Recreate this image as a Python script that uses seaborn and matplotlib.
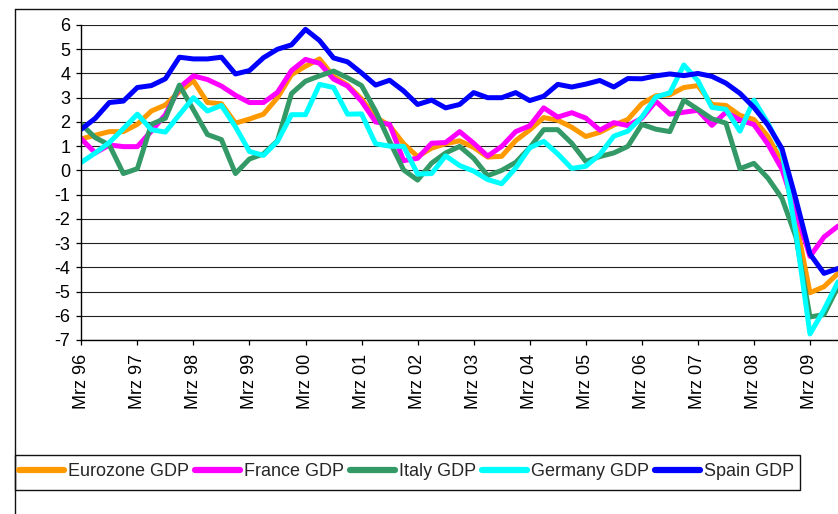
import numpy as np
import pandas as pd
import matplotlib
matplotlib.use("Agg")
import matplotlib.pyplot as plt
from matplotlib.lines import Line2D
from matplotlib.patches import Rectangle
import seaborn as sns

# ---------------- data (quarterly, Mrz 96 .. Sep 09) ----------------
tick_labels = ["Mrz 96", "Mrz 97", "Mrz 98", "Mrz 99", "Mrz 00", "Mrz 01", "Mrz 02",
               "Mrz 03", "Mrz 04", "Mrz 05", "Mrz 06", "Mrz 07", "Mrz 08", "Mrz 09"]

series_names = ["Eurozone GDP", "France GDP", "Italy GDP", "Germany GDP", "Spain GDP"]

eurozone = [1.3, 1.45, 1.6, 1.6, 1.9, 2.45, 2.7, 3.25, 3.7, 2.8, 2.75, 1.95, 2.12, 2.32, 3.0,
            3.95, 4.3, 4.6, 3.88, 3.52, 2.95, 2.2, 1.85, 1.1, 0.57, 0.92, 1.1, 1.22, 0.95, 0.55,
            0.58, 1.23, 1.67, 2.18, 2.07, 1.78, 1.4, 1.57, 1.87, 2.1, 2.75, 3.08, 3.12, 3.42,
            3.5, 2.72, 2.68, 2.27, 2.1, 1.4, 0.35, -2.1, -5.05, -4.8, -4.25]

france = [1.3, 0.72, 1.05, 0.98, 0.98, 1.62, 2.3, 3.42, 3.9, 3.75, 3.48, 3.1, 2.8, 2.8, 3.22,
          4.12, 4.58, 4.42, 3.77, 3.48, 2.85, 2.0, 1.9, 0.4, 0.5, 1.12, 1.15, 1.6, 1.12, 0.59,
          0.99, 1.6, 1.84, 2.58, 2.2, 2.38, 2.16, 1.66, 1.97, 1.85, 2.15, 2.85, 2.32, 2.4,
          2.48, 1.86, 2.4, 2.08, 1.89, 1.08, 0.05, -1.7, -3.55, -2.75, -2.3]

italy = [1.9, 1.35, 1.05, -0.13, 0.07, 1.9, 2.15, 3.52, 2.5, 1.48, 1.27, -0.13, 0.47, 0.68, 1.22,
         3.17, 3.68, 3.9, 4.1, 3.82, 3.5, 2.45, 1.2, 0.02, -0.4, 0.3, 0.72, 0.99, 0.5, -0.22,
         0.0, 0.33, 0.93, 1.68, 1.68, 1.12, 0.37, 0.57, 0.72, 0.99, 1.9, 1.7, 1.6, 2.9,
         2.52, 2.13, 1.95, 0.07, 0.29, -0.32, -1.15, -2.75, -6.05, -5.95, -4.8]

germany = [0.33, 0.72, 1.15, 1.72, 2.32, 1.68, 1.58, 2.3, 3.0, 2.45, 2.68, 1.8, 0.78, 0.62, 1.2,
           2.3, 2.3, 3.55, 3.42, 2.32, 2.33, 1.1, 1.0, 0.99, -0.15, -0.13, 0.6, 0.2, -0.03, -0.38,
           -0.55, 0.1, 0.93, 1.2, 0.68, 0.08, 0.17, 0.65, 1.41, 1.62, 2.2, 3.03, 3.2, 4.35,
           3.7, 2.6, 2.52, 1.62, 2.9, 1.95, 0.8, -2.6, -6.75, -5.75, -4.6]

spain = [1.7, 2.15, 2.8, 2.86, 3.42, 3.5, 3.78, 4.67, 4.6, 4.6, 4.67, 3.98, 4.12, 4.65, 5.0,
         5.18, 5.82, 5.36, 4.64, 4.48, 4.02, 3.52, 3.72, 3.28, 2.72, 2.9, 2.58, 2.72, 3.21, 3.0,
         3.0, 3.21, 2.88, 3.06, 3.55, 3.44, 3.56, 3.71, 3.44, 3.79, 3.78, 3.9, 3.98, 3.91,
         4.0, 3.88, 3.6, 3.18, 2.6, 1.87, 0.9, -1.2, -3.45, -4.25, -4.05]

colors = {"Eurozone GDP": "#FF9900", "France GDP": "#FF00FF", "Italy GDP": "#339966",
          "Germany GDP": "#00FFFF", "Spain GDP": "#0000FF"}

values = [eurozone, france, italy, germany, spain]
frames = []
for name, vals in zip(series_names, values):
    frames.append(pd.DataFrame({"quarter": np.arange(len(vals)), "value": vals, "series": name}))
df = pd.concat(frames, ignore_index=True)

# ---------------- figure ----------------
sns.set_theme(style="white")
plt.rcParams["font.family"] = ["Liberation Sans", "DejaVu Sans"]

W, H = 838, 514
fig = plt.figure(figsize=(W / 100, H / 100), dpi=100)
fig.patch.set_facecolor("white")

def fx(px):
    return px / W

def fy(py):
    return 1 - py / H

ax = fig.add_axes([fx(81.3), fy(340), 1 - fx(81.3), fy(25) - fy(340)])
ax.set_facecolor("white")

sns.lineplot(data=df, x="quarter", y="value", hue="series", hue_order=series_names,
             palette=colors, linewidth=3.6, legend=False, ax=ax, estimator=None,
             solid_joinstyle="round", solid_capstyle="round")

ax.set_xlim(0, 54)
ax.set_ylim(-7, 6)
ax.set_yticks(np.arange(-7, 7, 1))
ax.set_yticklabels([str(v) for v in range(-7, 7)])
ax.set_xticks(np.arange(0, 4 * len(tick_labels), 4))
ax.set_xticklabels(tick_labels, rotation=90)
ax.set_xlabel("")
ax.set_ylabel("")

ax.set_axisbelow(True)
ax.yaxis.grid(True, color="#222222", linewidth=0.8)
ax.xaxis.grid(False)
for s in ["top", "right"]:
    ax.spines[s].set_visible(False)
for s in ["left", "bottom"]:
    ax.spines[s].set_color("black")
    ax.spines[s].set_linewidth(1.0)

ax.tick_params(axis="both", which="major", direction="out", length=3.8, width=0.9,
               color="black", labelcolor="black", labelsize=13,
               left=True, bottom=True)
ax.tick_params(axis="y", pad=4)
ax.tick_params(axis="x", pad=6)

# outer chart border (cut off right and bottom)
fig.add_artist(Line2D([fx(15), fx(15)], [fy(9), 0], transform=fig.transFigure,
                      color="#111111", linewidth=1.0))
fig.add_artist(Line2D([fx(15), 1], [fy(9), fy(9)], transform=fig.transFigure,
                      color="#111111", linewidth=1.0))

# legend box
fig.add_artist(Rectangle((fx(15), fy(490)), fx(800) - fx(15), fy(455) - fy(490),
                         transform=fig.transFigure, fill=False, edgecolor="#111111",
                         linewidth=1.0))
handles = [Line2D([0], [0], color=colors[n], linewidth=4.5, solid_capstyle="round")
           for n in series_names]
fig.legend(handles, series_names, loc="center left",
           bbox_to_anchor=(fx(18.5), fy(472)), ncol=5, frameon=False,
           fontsize=13, handlelength=2.5, handletextpad=0.22, columnspacing=0.33,
           borderpad=0, borderaxespad=0)

fig.savefig("out.png", dpi=100, facecolor="white")
